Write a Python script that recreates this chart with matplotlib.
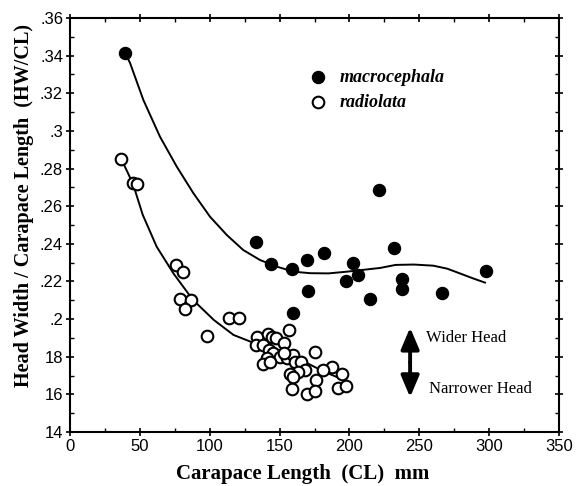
import matplotlib
matplotlib.use("Agg")
from matplotlib import pyplot as plt
from matplotlib.ticker import MultipleLocator

# macrocephala (filled)
macro_cl = [39.4, 133, 143.9, 158.7, 169.4, 182, 170.1, 159.8, 202.8, 197.6, 206.4,
            214.7, 221.4, 232.2, 237.4, 237.4, 266.3, 297.6]
macro_hw = [.3416, .2411, .2293, .2265, .2314, .235, .215, .203, .230, .220, .2234,
            .2105, .2686, .2376, .2213, .2158, .214, .2257]

# radiolata (open)
radio_cl = [36.5, 45.3, 47.7, 75.6, 80.6, 78.7, 86.4, 82.3, 98.3, 114, 121,
            156.8, 133.6, 141.5, 144.8, 147.5, 153.2, 132.9, 138.4, 142.7, 145.5,
            150.3, 155.1, 159.8, 175.4, 140.8, 138, 143.2, 161, 165.1, 168.2,
            163.4, 157.5, 159.8, 176.1, 187.3, 195, 192.1, 197.6, 159.1, 169.9,
            175.4, 181.3, 153.2]
radio_hw = [.2851, .2722, .2718, .2288, .2249, .2105, .2102, .2054, .1912, .2004, .2004,
            .1942, .1907, .1921, .1907, .1898, .1872, .1863, .1863, .1836, .1818,
            .18, .1792, .1809, .1824, .1792, .176, .1774, .1774, .1774, .173,
            .1721, .1708, .1691, .1677, .1747, .1708, .1632, .1646, .1629, .1602,
            .162, .173, .1818]

# fitted curves
macro_fit_x = [39.4, 43, 52.5, 64.4, 76.4, 88.3, 100.2, 112.2, 124, 136, 148, 160, 172,
               185, 198, 210, 222, 233, 246, 260, 270, 279, 289, 297]
macro_fit_y = [.3416, .336, .3164, .2969, .281, .2669, .2544, .2447, .2367, .2314, .2279,
               .2252, .2244, .2243, .2252, .2262, .2272, .2288, .229, .2284, .2268,
               .2243, .2215, .2194]
radio_fit_x = [37, 45, 52, 62, 74, 88, 103, 117, 131, 145, 158, 170, 182, 196]
radio_fit_y = [.2846, .272, .2555, .2385, .2243, .2102, .1995, .1916, .1875, .1835,
               .18, .1765, .172, .1677]

yticks = [.14, .16, .18, .2, .22, .24, .26, .28, .3, .32, .34, .36]
ytick_labels = ['14', '16', '18', '.2', '.22', '.24', '.26', '.28', '.3', '.32', '.34', '.36']
xticks = [0, 50, 100, 150, 200, 250, 300, 350]

serif = 'Liberation Serif'
sans = 'Liberation Sans'

fig = plt.figure(figsize=(5.86, 4.86), dpi=100)
ax = fig.add_axes([0.1195, 0.111, 0.8345, 0.852])

ax.plot(macro_fit_x, macro_fit_y, color='black', lw=1.4, zorder=2)
ax.plot(radio_fit_x, radio_fit_y, color='black', lw=1.4, zorder=2)
ax.scatter(macro_cl, macro_hw, s=75, color='black', zorder=3)
ax.scatter(radio_cl, radio_hw, s=70, facecolor='white', edgecolor='black', linewidth=1.5, zorder=3)

ax.set_xlim(0, 350)
ax.set_ylim(.14, .36)
ax.set_xticks(xticks)
ax.set_xticklabels([str(v) for v in xticks], fontfamily=sans, fontsize=12)
ax.set_yticks(yticks)
ax.set_yticklabels(ytick_labels, fontfamily=sans, fontsize=12)
ax.xaxis.set_minor_locator(MultipleLocator(25))
ax.yaxis.set_minor_locator(MultipleLocator(.01))
ax.tick_params(which='major', direction='inout', length=6, width=1.2, top=True, right=True, pad=2)
ax.tick_params(which='minor', direction='in', length=3, width=1.0, top=True, right=True)
for sp in ax.spines.values():
    sp.set_linewidth(1.5)

ax.set_xlabel('Carapace Length  (CL)  mm', fontfamily=serif, fontweight='bold', fontsize=15)
ax.set_ylabel('Head Width / Carapace Length  (HW/CL)', fontfamily=serif, fontweight='bold', fontsize=14.5)
ax.xaxis.set_label_coords(0.476, -0.078)
ax.yaxis.set_label_coords(-0.074, 0.548)

# legend
ax.scatter([177.7], [.3285], s=75, color='black')
ax.scatter([177.7], [.3152], s=70, facecolor='white', edgecolor='black', linewidth=1.5)
ax.text(193, .3285, 'macrocephala', fontfamily=serif, fontweight='bold', style='italic', fontsize=13, va='center')
ax.text(193, .3152, 'radiolata', fontfamily=serif, fontweight='bold', style='italic', fontsize=13, va='center')

# wider / narrower arrow
arrow_style = dict(arrowstyle='-|>,head_width=0.55,head_length=1.3', color='black', lw=2.8,
                   shrinkA=0, shrinkB=0)
ax.annotate('', xy=(243.4, .1955), xytext=(243.4, .177), arrowprops=arrow_style)
ax.annotate('', xy=(243.4, .1585), xytext=(243.4, .177), arrowprops=arrow_style)
ax.text(254.5, .1898, 'Wider Head', fontfamily=serif, fontsize=12, va='center')
ax.text(257, .1627, 'Narrower Head', fontfamily=serif, fontsize=12, va='center')

fig.savefig('out.png', dpi=100)
